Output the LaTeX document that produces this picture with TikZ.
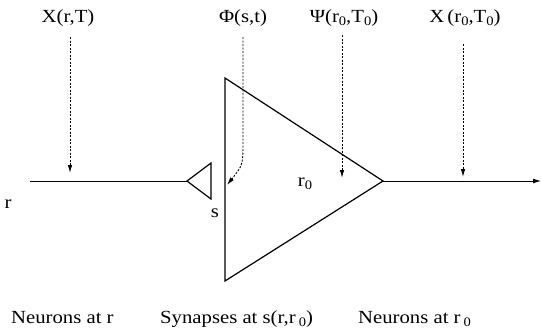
\documentclass[tikz,border=0pt]{standalone}
\usepackage{fontspec}
\setmainfont[FakeStretch=1.12]{Liberation Serif}
\usetikzlibrary{arrows.meta}
\newcommand\lowz[1]{\raisebox{-0.45ex}{\fontsize{13}{13}\selectfont #1}}
\tikzset{
  lab/.style={inner sep=0pt, anchor=base, font=\fontsize{18.5}{20}\selectfont},
  wire/.style={line width=1pt},
  tri/.style={line width=1.2pt, line join=miter},
  probe/.style={line width=0.9pt, dash pattern=on 2pt off 1.5pt, -{Latex[length=8pt,width=4.5pt]}},
}
\begin{document}
\begin{tikzpicture}[x=1pt,y=-1pt]
\useasboundingbox (0,0) rectangle (541,335);
% geometry
\coordinate (in) at (30,181);
\coordinate (sl) at (187,181);
\coordinate (st) at (211,163);
\coordinate (sb) at (211,199);
\coordinate (bt) at (225,78);
\coordinate (bb) at (225,281);
\coordinate (ap) at (383,181);
\coordinate (out) at (541,181);
\coordinate (pa) at (70,181);
\coordinate (pb) at (227,185);
\coordinate (pc) at (342,186);
\coordinate (pd) at (463,181);
% labels
\node[lab] (xa) at (68,22) {X(r,T)};
\node[lab] (ph) at (243,22) {Φ(s,t)};
\node[lab] (ps) at (344,22) {Ψ(r\lowz{0},T\lowz{0})};
\node[lab] (xb) at (465,22) {X\,(r\lowz{0},T\lowz{0})};
\node[lab] (r) at (8,208) {r};
\node[lab] (s) at (215,217) {s};
\node[lab] (r0) at (305,186) {r\lowz{0}};
\node[lab, anchor=base west] (na) at (11,323) {Neurons at r};
\node[lab, anchor=base west] (sy) at (160,323) {Synapses at s(r,r\,\lowz{0})};
\node[lab, anchor=base west] (nb) at (358,323) {Neurons at r\,\lowz{0}};
% wires
\draw[wire] (in) -- (sl);
\draw[tri] (st) -- (sl) -- (sb) -- cycle;
\draw[tri] (bt) -- (bb) -- (ap) -- cycle;
\draw[wire, -{Latex[length=8pt,width=5pt]}] (ap) -- (out);
% probes
\draw[probe, shorten <=11pt, shorten >=8pt] (xa.south -| pa) -- (pa);
\draw[probe, shorten <=11pt] (ph.south) -- (243,140) .. controls (243,165) .. (pb);
\draw[probe, shorten <=9pt, shorten >=8pt] (ps.south -| pc) -- (pc);
\draw[probe, shorten <=18pt, shorten >=4pt] (xb.south -| pd) -- (pd);
\end{tikzpicture}
\end{document}
